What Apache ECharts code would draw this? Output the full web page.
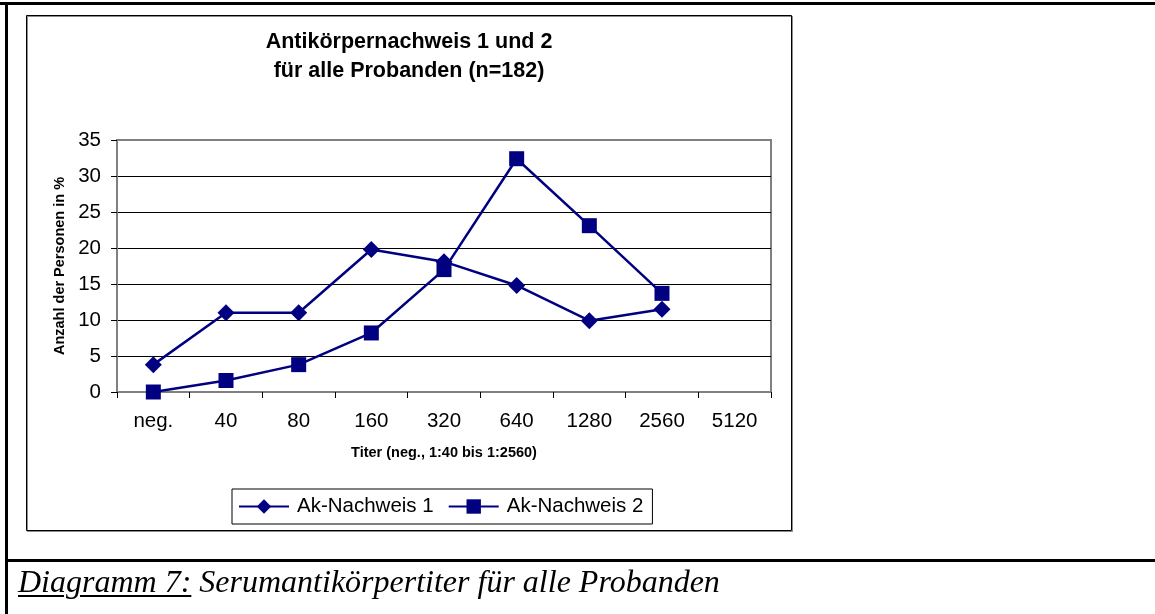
<!DOCTYPE html>
<html>
<head>
<meta charset="utf-8">
<script src="https://cdn.jsdelivr.net/npm/echarts@6/dist/echarts.min.js"></script>
<style>
  html, body { margin: 0; padding: 0; background: #fff; }
  #page { position: relative; width: 1155px; height: 614px; overflow: hidden; }
  .rule { position: absolute; background: #000; }
  #chart { position: absolute; left: 0; top: 0; width: 1155px; height: 614px; }
  #caption {
    position: absolute; left: 18px; top: 563px;
    font-family: "Liberation Serif", "DejaVu Serif", serif;
    font-style: italic; font-size: 32px; line-height: 36px; color: #000;
    white-space: nowrap;
  }
  #caption u { text-decoration-thickness: 2px; text-underline-offset: 3px; }
</style>
</head>
<body>
<div id="page">
  <div class="rule" style="left:0;top:2px;width:1155px;height:3px"></div>
  <div class="rule" style="left:5px;top:2px;width:3px;height:612px"></div>
  <div class="rule" style="left:5px;top:559px;width:1150px;height:3px"></div>
  <div id="chart"></div>
  <div id="caption"><u>Diagramm 7:</u> Serumantikörpertiter für alle Probanden</div>
</div>
<script>
// Titer-Stufen (x-Achse)
const categories = ['neg.', '40', '80', '160', '320', '640', '1280', '2560', '5120']
// Anteil der Probanden in % (n=182)
const akNachweis1 = [3.8, 11.0, 11.0, 19.8, 18.1, 14.8, 9.9, 11.5, null]
const akNachweis2 = [0.0, 1.6, 3.8, 8.2, 17.0, 32.4, 23.1, 13.7, null]
const seriesNames = ['Ak-Nachweis 1', 'Ak-Nachweis 2']

const navy = '#000080'
const font = 'Liberation Sans, Arial, sans-serif'

const chart = echarts.init(document.getElementById('chart'))

const option = {
  animation: false,
  title: {
    text: 'Antikörpernachweis 1 und 2\nfür alle Probanden (n=182)',
    left: 409,
    top: 28,
    textAlign: 'center',
    padding: 0,
    textStyle: {
      fontFamily: font,
      fontSize: 21.5,
      fontWeight: 'bold',
      color: '#000',
      lineHeight: 29
    }
  },
  graphic: [
    {
      type: 'rect',
      shape: { x: 26.5, y: 15.5, width: 765, height: 515 },
      style: { fill: 'none', stroke: '#000', lineWidth: 1, shadowColor: 'rgba(0,0,0,0.45)', shadowOffsetX: 1, shadowOffsetY: 1 },
      z: -1
    }
  ],
  legend: {
    data: seriesNames,
    left: 232,
    top: 489,
    padding: [7, 9, 7, 6],
    itemGap: 14,
    itemWidth: 50,
    itemHeight: 18,
    borderColor: '#000',
    borderWidth: 1,
    textStyle: { fontFamily: font, fontSize: 20.5, color: '#000', padding: [0, 0, 0, 3] }
  },
  grid: {
    left: 117,
    top: 140,
    right: 384,
    bottom: 222,
    show: true,
    borderColor: '#808080',
    borderWidth: 2,
    backgroundColor: '#fff'
  },
  xAxis: {
    type: 'category',
    data: categories,
    boundaryGap: true,
    name: 'Titer (neg., 1:40 bis 1:2560)',
    nameLocation: 'middle',
    nameGap: 53,
    nameTextStyle: { fontFamily: font, fontSize: 14.5, fontWeight: 'bold', color: '#000' },
    axisLine: { lineStyle: { color: '#808080', width: 2 } },
    axisTick: { show: true, inside: false, length: 6, lineStyle: { color: '#000', width: 1 } },
    axisLabel: { fontFamily: font, fontSize: 20.5, color: '#000', margin: 19, interval: 0 },
    splitLine: { show: false }
  },
  yAxis: {
    type: 'value',
    min: 0,
    max: 35,
    interval: 5,
    name: 'Anzahl der Personen in %',
    nameLocation: 'middle',
    nameGap: 45,
    nameTextStyle: { fontFamily: font, fontSize: 14.5, fontWeight: 'bold', color: '#000' },
    axisLine: { show: true, lineStyle: { color: '#808080', width: 2 } },
    axisTick: { show: true, inside: false, length: 6, lineStyle: { color: '#000', width: 1 } },
    axisLabel: { fontFamily: font, fontSize: 20.5, color: '#000', margin: 16 },
    splitLine: {
      show: true,
      lineStyle: { color: ['#808080', '#000', '#000', '#000', '#000', '#000', '#000', '#808080'], width: 1 }
    }
  },
  series: [
    {
      name: seriesNames[0],
      type: 'line',
      data: akNachweis1,
      symbol: 'diamond',
      symbolSize: 17,
      showAllSymbol: true,
      lineStyle: { color: navy, width: 2.5 },
      itemStyle: { color: navy },
      z: 3
    },
    {
      name: seriesNames[1],
      type: 'line',
      data: akNachweis2,
      symbol: 'rect',
      symbolSize: 15,
      showAllSymbol: true,
      lineStyle: { color: navy, width: 2.5 },
      itemStyle: { color: navy },
      z: 4
    }
  ]
}

chart.setOption(option)
window.addEventListener('resize', () => chart.resize())
</script>
</body>
</html>
